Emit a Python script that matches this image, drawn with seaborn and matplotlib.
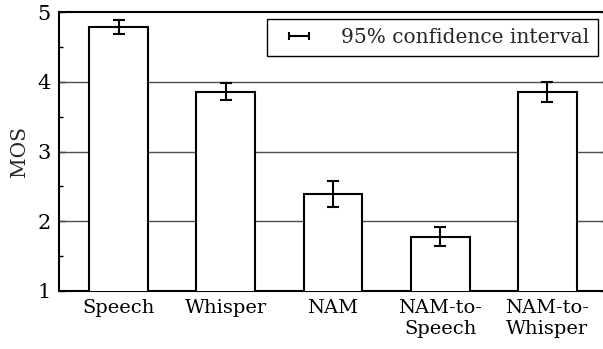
import numpy as np
import pandas as pd
import matplotlib
matplotlib.use("Agg")
import matplotlib.pyplot as plt
import seaborn as sns

# Mean opinion scores and 95% CI half-widths per condition
conditions = ["Speech", "Whisper", "NAM", "NAM-to-\nSpeech", "NAM-to-\nWhisper"]
mos = [4.78, 3.86, 2.39, 1.78, 3.85]
ci95 = [0.10, 0.12, 0.19, 0.14, 0.14]
y_ticks = [1, 2, 3, 4, 5]

sns.set_theme(style="white")
plt.rcParams["font.family"] = ["DejaVu Serif"]
plt.rcParams["mathtext.fontset"] = "dejavuserif"

df = pd.DataFrame({"condition": conditions, "mos": mos, "ci": ci95})

fig = plt.figure(figsize=(6.03, 3.49), dpi=100)
ax = fig.add_axes([59 / 603, 1 - 291 / 349, (607 - 59) / 603, (291 - 12) / 349])

sns.barplot(data=df, x="condition", y="mos", ax=ax, color="white",
            edgecolor="black", linewidth=1.5, width=0.55, errorbar=None,
            zorder=3)
ax.errorbar(np.arange(len(conditions)), df["mos"], yerr=df["ci"], fmt="none",
            ecolor="black", elinewidth=1.5, capsize=4, capthick=1.5, zorder=4)

ax.set_ylim(1, 5)
ax.set_xlim(-0.556, len(conditions) - 1 + 0.556)
ax.set_yticks(y_ticks)
ax.set_yticks([1.5, 2.5, 3.5, 4.5], minor=True)
for y in [2, 3, 4]:
    ax.axhline(y, color="0.3", linewidth=1.0, zorder=1)

ax.set_xlabel("")
ax.set_ylabel("MOS", fontsize=14.5, labelpad=6)
ax.tick_params(axis="y", which="both", direction="in", left=True, right=True,
               labelsize=15, length=4, width=1, color="black", pad=6)
ax.tick_params(axis="y", which="minor", length=3)
ax.tick_params(axis="x", length=0, labelsize=14, pad=6, labelcolor="black")
ax.tick_params(axis="y", labelcolor="black")
for lbl in ax.get_xticklabels():
    lbl.set_linespacing(1.2)
for s in ax.spines.values():
    s.set_visible(True)
    s.set_color("black")
    s.set_linewidth(1.5)

handle = ax.errorbar([np.nan], [np.nan], xerr=[[np.nan], [np.nan]], fmt="none",
                     ecolor="black", elinewidth=1.5, capsize=3, capthick=1.5,
                     label="95% confidence interval")
leg = ax.legend(handles=[handle], loc="upper right", fontsize=14.5, frameon=True,
                fancybox=False, edgecolor="black", framealpha=1,
                bbox_to_anchor=((598 - 59) / 548, (291 - 19) / 279),
                borderaxespad=0, borderpad=0.45,
                handlelength=2.3, handletextpad=0.9)
leg.get_frame().set_linewidth(1.0)

fig.savefig("out.png", dpi=100)
